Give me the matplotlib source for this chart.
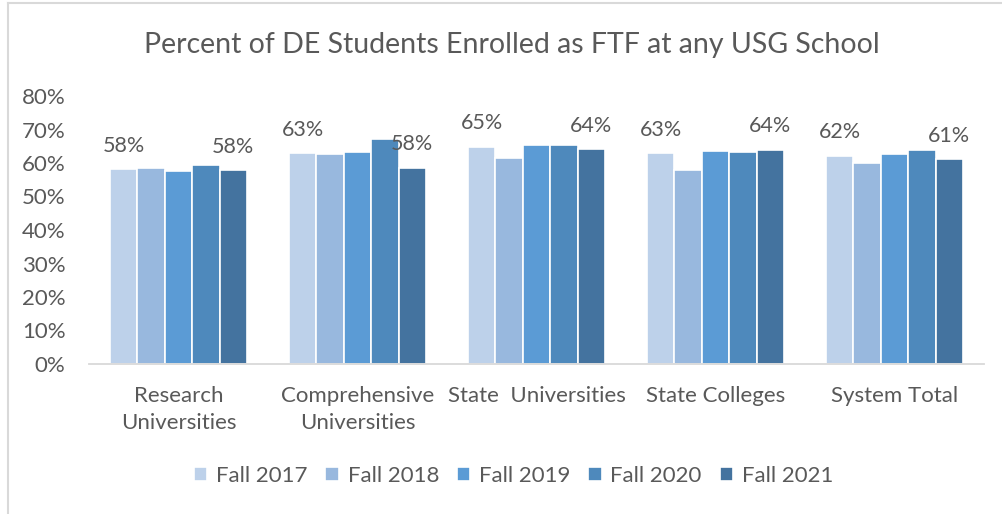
import numpy as np
import matplotlib
matplotlib.use("Agg")
import matplotlib.pyplot as plt
from matplotlib.lines import Line2D

# Share of dual-enrollment students who later enrolled as first-time freshmen
categories = ["Research\nUniversities", "Comprehensive\nUniversities", "State  Universities",
              "State Colleges", "System Total"]
years = ["Fall 2017", "Fall 2018", "Fall 2019", "Fall 2020", "Fall 2021"]
fall_2017 = [58.1, 62.9, 64.8, 62.9, 62.1]
fall_2018 = [58.6, 62.6, 61.5, 57.9, 59.9]
fall_2019 = [57.6, 63.4, 65.4, 63.7, 62.8]
fall_2020 = [59.4, 67.1, 65.5, 63.2, 63.8]
fall_2021 = [57.8, 58.5, 64.1, 64.0, 61.1]
colors = ["#BDD1EA", "#98B8DE", "#5B9BD5", "#4E89BC", "#44739F"]

series = [fall_2017, fall_2018, fall_2019, fall_2020, fall_2021]
labelled = [0, 4]  # only first and last year get data labels

plt.rcParams["font.family"] = ["Lato", "DejaVu Sans"]
text_color = "#595959"

fig = plt.figure(figsize=(10.03, 5.14), dpi=100)
ax = fig.add_axes([89 / 1003, 1 - 364 / 514, (984 - 89) / 1003, 268 / 514])

x = np.arange(len(categories))
width = 0.153
for i, vals in enumerate(series):
    pos = x + (i - 2) * width
    bars = ax.bar(pos, np.array(vals) / 100, width, color=colors[i],
                  edgecolor="white", linewidth=1.2, label=years[i])
    if i in labelled:
        for b, v in zip(bars, vals):
            ax.annotate(f"{v:.0f}%", (b.get_x() + b.get_width() / 2, b.get_height()),
                        xytext=(0, 17), textcoords="offset points",
                        ha="center", va="center", fontsize=15.5, color=text_color)

ax.set_xlim(-0.5, len(categories) - 0.5)
ax.set_ylim(0, 0.8)
ax.set_yticks(np.arange(0, 0.81, 0.1))
ax.set_yticklabels([f"{t * 100:.0f}%" for t in np.arange(0, 0.81, 0.1)])
ax.set_xticks(x)
ax.set_xticklabels(categories, linespacing=1.45)
ax.tick_params(axis="both", length=0, labelsize=16, labelcolor=text_color)
ax.tick_params(axis="x", pad=16)
ax.tick_params(axis="y", pad=17)
for s in ["top", "right", "left"]:
    ax.spines[s].set_visible(False)
ax.spines["bottom"].set_color("#D9D9D9")
ax.spines["bottom"].set_linewidth(1.3)

fig.text(0.51, 1 - 45 / 514, "Percent of DE Students Enrolled as FTF at any USG School",
         ha="center", va="center", fontsize=20.5, color=text_color)

handles, labels = ax.get_legend_handles_labels()
fig.legend(handles, labels, loc="center", bbox_to_anchor=(0.512, 1 - 476 / 514), ncol=5,
           frameon=False, fontsize=16, labelcolor=text_color, handlelength=0.6,
           handleheight=0.6, handletextpad=0.4, columnspacing=0.8)

# chart border (left and top edges visible in the reference crop)
fig.add_artist(Line2D([8 / 1003, 8 / 1003], [0, 1 - 3 / 514], color="#D9D9D9", lw=1.5))
fig.add_artist(Line2D([8 / 1003, 1], [1 - 3 / 514, 1 - 3 / 514], color="#D9D9D9", lw=1.5))

fig.savefig("out.png", dpi=100)
